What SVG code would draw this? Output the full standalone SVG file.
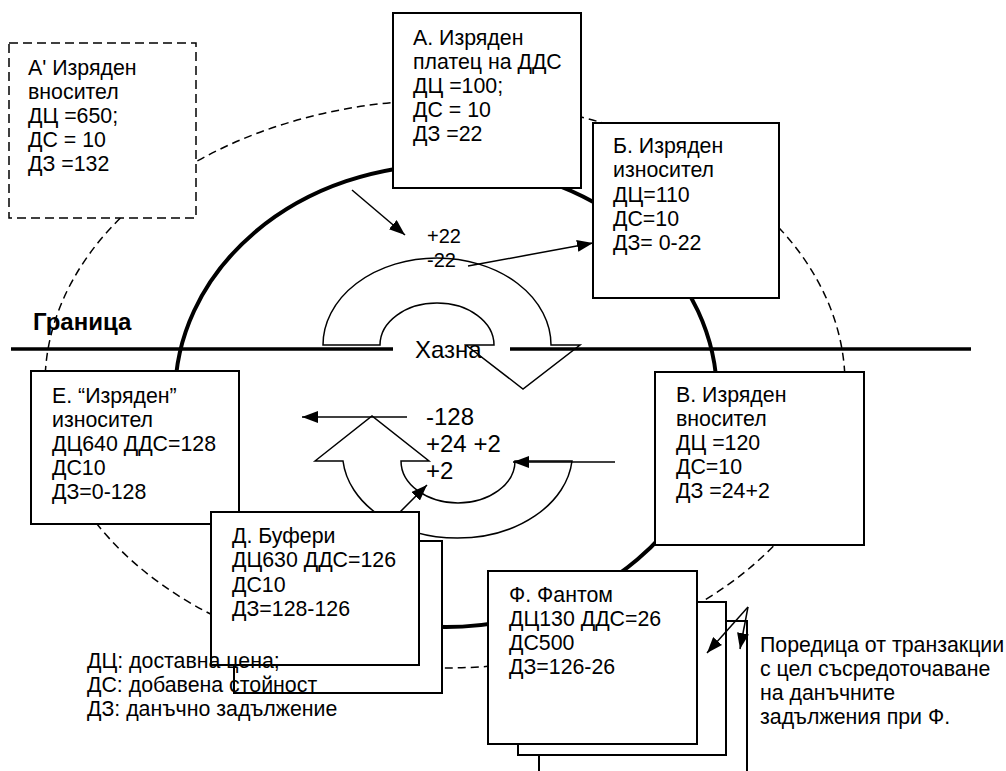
<svg xmlns="http://www.w3.org/2000/svg" width="1006" height="771" viewBox="0 0 1006 771">
<defs>
<style>
.box{fill:#fff;stroke:#000;stroke-width:2}
.dbox{fill:#fff;stroke:#000;stroke-width:1.5;stroke-dasharray:9 5}
.t{font-family:"Liberation Sans",Arial,sans-serif;font-size:21.33px;fill:#000}
.big{font-size:24px}
.sm{font-size:20px}
.bold{font-weight:bold}
.thin{fill:none;stroke:#000;stroke-width:1.5}
.arr{fill:none;stroke:#000;stroke-width:1.5;marker-end:url(#ah)}
</style>
<marker id="ah" viewBox="0 0 10 10" refX="10" refY="5" markerUnits="userSpaceOnUse" markerWidth="16" markerHeight="12" orient="auto" preserveAspectRatio="none">
<path d="M0,0 L10,5 L0,10 Z" fill="#000"/>
</marker>
</defs>
<rect width="1006" height="771" fill="#fff"/>

<g id="circles">
<ellipse cx="445" cy="384" rx="400" ry="284" fill="none" stroke="#000" stroke-width="1.5" stroke-dasharray="8 5"/>
<ellipse cx="446" cy="396" rx="271" ry="231" fill="none" stroke="#000" stroke-width="4"/>
</g>

<g id="treasury">
<path class="thin" d="M323 345 A114 87 0 0 1 551 345 L580 345 L523 389 L466 345 L494 345 A57 42 0 0 0 380 345 Z"/>
<path class="thin" d="M315 461 L372 416 L429 461 L401 461 A57 42 0 0 0 515 461 L572 461 A115 85 0 0 1 343 461 Z"/>
</g>

<g id="boundary">
<line x1="11" y1="349" x2="393" y2="349" stroke="#000" stroke-width="3.5"/>
<line x1="510" y1="349" x2="971" y2="349" stroke="#000" stroke-width="3.5"/>
<text class="t bold big" x="33" y="330">Граница</text>
<text class="t big" x="415" y="358">Хазна</text>
</g>

<g id="nodeA1">
<rect class="dbox" x="9" y="43" width="187" height="175"/>
<text class="t" x="28" y="75">А' Изряден</text>
<text class="t" x="28" y="99">вносител</text>
<text class="t" x="28" y="123">ДЦ =650;</text>
<text class="t" x="28" y="147">ДС = 10</text>
<text class="t" x="28" y="171">ДЗ =132</text>
</g>

<g id="nodeA">
<rect class="box" x="393" y="13" width="188" height="175"/>
<text class="t" x="413" y="45">А. Изряден</text>
<text class="t" x="413" y="69">платец на ДДС</text>
<text class="t" x="413" y="93">ДЦ =100;</text>
<text class="t" x="413" y="117">ДС = 10</text>
<text class="t" x="413" y="141">ДЗ =22</text>
</g>

<g id="nodeB">
<rect class="box" x="593" y="123" width="186" height="175"/>
<text class="t" x="613" y="153">Б. Изряден</text>
<text class="t" x="613" y="177">износител</text>
<text class="t" x="613" y="202">ДЦ=110</text>
<text class="t" x="613" y="226">ДС=10</text>
<text class="t" x="613" y="250">ДЗ= 0-22</text>
</g>

<g id="nodeE">
<rect class="box" x="31" y="371" width="208" height="153"/>
<text class="t" x="52" y="403">Е. “Изряден”</text>
<text class="t" x="52" y="427">износител</text>
<text class="t" x="52" y="451">ДЦ640 ДДС=128</text>
<text class="t" x="52" y="475">ДС10</text>
<text class="t" x="52" y="499">ДЗ=0-128</text>
</g>

<g id="nodeV">
<rect class="box" x="655" y="372" width="209" height="173"/>
<text class="t" x="676" y="402">В. Изряден</text>
<text class="t" x="676" y="426">вносител</text>
<text class="t" x="676" y="450">ДЦ =120</text>
<text class="t" x="676" y="474">ДС=10</text>
<text class="t" x="676" y="498">ДЗ =24+2</text>
</g>

<g id="nodeD">
<rect class="box" x="234" y="541" width="208" height="152"/>
<rect class="box" x="211" y="512" width="208" height="153"/>
<text class="t" x="232" y="543">Д. Буфери</text>
<text class="t" x="232" y="567">ДЦ630 ДДС=126</text>
<text class="t" x="232" y="592">ДС10</text>
<text class="t" x="232" y="616">ДЗ=128-126</text>
</g>

<g id="nodeF">
<rect class="box" x="539" y="621" width="208" height="180"/>
<rect class="box" x="518" y="602" width="208" height="153"/>
<rect class="box" x="488" y="571" width="209" height="173"/>
<text class="t" x="509" y="602">Ф. Фантом</text>
<text class="t" x="509" y="626">ДЦ130 ДДС=26</text>
<text class="t" x="509" y="650">ДС500</text>
<text class="t" x="509" y="674">ДЗ=126-26</text>
</g>

<g id="labels">
<text class="t sm" x="427" y="243">+22</text>
<text class="t sm" x="427" y="267">-22</text>
<text class="t big" x="426" y="425">-128</text>
<text class="t big" x="426" y="452">+24 +2</text>
<text class="t big" x="426" y="479">+2</text>
<text class="t" x="87" y="668">ДЦ: доставна цена;</text>
<text class="t" x="87" y="692">ДС: добавена стойност</text>
<text class="t" x="87" y="716">ДЗ: данъчно задължение</text>
<text class="t" x="760" y="652">Поредица от транзакции</text>
<text class="t" x="760" y="676">с цел съсредоточаване</text>
<text class="t" x="760" y="700">на данъчните</text>
<text class="t" x="760" y="724">задължения при Ф.</text>
</g>

<g id="connectors">
<line class="arr" x1="352" y1="190" x2="405" y2="235"/>
<line class="arr" x1="468" y1="266" x2="593" y2="243"/>
<line class="arr" x1="407" y1="417" x2="302" y2="417"/>
<line class="arr" x1="615" y1="462" x2="513" y2="462"/>
<line class="arr" x1="400" y1="512" x2="427" y2="485"/>
<line class="arr" x1="748" y1="607" x2="707" y2="653"/>
<line class="arr" x1="748" y1="607" x2="740" y2="649"/>
</g>
</svg>
